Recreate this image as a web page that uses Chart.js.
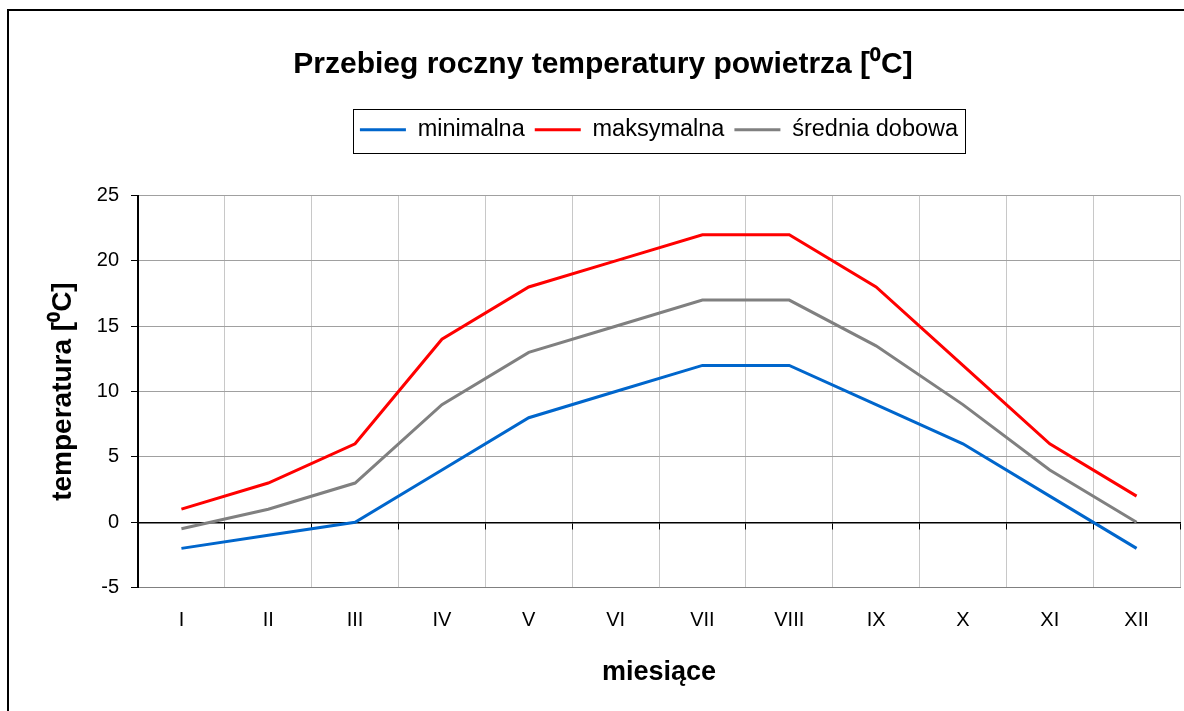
<!DOCTYPE html>
<html><head><meta charset="utf-8">
<script src="https://cdn.jsdelivr.net/npm/chart.js@4.4.1/dist/chart.umd.min.js"></script>
<style>
html,body{margin:0;padding:0;background:#fff;overflow:hidden}
#wrap{position:relative;width:1184px;height:711px}
#frame{position:absolute;left:7px;top:9px;width:1300px;height:800px;border:2.5px solid #000;pointer-events:none;box-sizing:border-box}
canvas{position:absolute;left:0;top:0}
</style></head><body>
<div id="wrap"><canvas id="c" width="1184" height="711"></canvas><div id="frame"></div></div>
<script>
const months = ['I','II','III','IV','V','VI','VII','VIII','IX','X','XI','XII'];
const minimalna = [-2, -1, 0, 4, 8, 10, 12, 12, 9, 6, 2, -2];
const maksymalna = [1, 3, 6, 14, 18, 20, 22, 22, 18, 12, 6, 2];
const sredniaDobowa = [-0.5, 1, 3, 9, 13, 15, 17, 17, 13.5, 9, 4, 0];
const yTicks = [-5, 0, 5, 10, 15, 20, 25];
const seriesNames = ['minimalna', 'maksymalna', 'średnia dobowa'];
const seriesColors = ['#0066cc', '#ff0000', '#808080'];
const chartTitle = 'Przebieg roczny temperatury powietrza [⁰C]';
const yTitle = 'temperatura [⁰C]';
const xTitle = 'miesiące';

const FONT = '"Liberation Sans", Arial, sans-serif';

const legendBox = {
  id: 'legendBox',
  afterDraw(chart) {
    const lg = chart.legend;
    if (!lg || !lg.legendHitBoxes || !lg.legendHitBoxes.length) return;
    const hb = lg.legendHitBoxes;
    const l = Math.min(...hb.map(h => h.left));
    const r = Math.max(...hb.map(h => h.left + h.width));
    const t = Math.min(...hb.map(h => h.top));
    const b = Math.max(...hb.map(h => h.top + h.height));
    const ctx = chart.ctx;
    ctx.save();
    ctx.strokeStyle = '#000';
    ctx.lineWidth = 1;
    ctx.strokeRect(Math.round(l - 7) + 0.5, Math.round(t - 9) + 0.5, Math.round(r - l + 14), Math.round(b - t + 20));
    ctx.restore();
  }
};

const datasets = [minimalna, maksymalna, sredniaDobowa].map((d, i) => ({
  label: seriesNames[i],
  data: d,
  borderColor: seriesColors[i],
  backgroundColor: seriesColors[i],
  borderWidth: 3,
  pointRadius: 0,
  pointHoverRadius: 0,
  tension: 0,
  fill: false
}));

new Chart(document.getElementById('c'), {
  type: 'line',
  data: { labels: months, datasets },
  plugins: [legendBox],
  options: {
    responsive: false,
    animation: false,
    events: [],
    layout: { padding: { left: 26, right: 4, top: 0, bottom: 0 } },
    plugins: {
      tooltip: { enabled: false },
      title: {
        display: true,
        text: chartTitle,
        color: '#000',
        font: { family: FONT, size: 30, weight: 'bold' },
        padding: { top: 47, bottom: 25 }
      },
      legend: {
        display: true,
        position: 'top',
        fullSize: false,
        labels: {
          usePointStyle: true,
          pointStyle: 'line',
          pointStyleWidth: 46,
          color: '#000',
          font: { family: FONT, size: 23.5 },
          padding: 10
        }
      }
    },
    scales: {
      x: {
        type: 'category',
        offset: true,
        grid: { offset: true, color: '#c8c8c8', lineWidth: 1, drawTicks: false },
        border: { display: true, color: '#808080', width: 1 },
        ticks: { color: '#000', font: { family: FONT, size: 20 }, padding: 21 },
        title: { display: true, text: xTitle, color: '#000', font: { family: FONT, size: 27, weight: 'bold' }, padding: { top: 3, bottom: 22 } }
      },
      xZero: {
        type: 'category',
        axis: 'x',
        position: { y: 0 },
        offset: true,
        grid: { offset: true, drawOnChartArea: false, drawTicks: true, tickLength: 6, tickColor: '#000', color: '#000' },
        border: { display: true, color: '#000', width: 1.5 },
        ticks: { display: false },
        afterFit(s) { s.height = 0; }
      },
      xTop: {
        type: 'category',
        axis: 'x',
        position: 'top',
        grid: { display: false },
        border: { display: false },
        ticks: { display: false },
        afterFit(s) { s.height = 44; }
      },
      y: {
        min: -5,
        max: 25,
        afterBuildTicks(s) { s.ticks = yTicks.map(v => ({ value: v })); },
        grid: { color: '#a0a0a0', lineWidth: 1, tickLength: 7, tickColor: '#000' },
        border: { display: true, color: '#000', width: 2 },
        ticks: { color: '#000', font: { family: FONT, size: 20 }, padding: 12 },
        title: { display: true, text: yTitle, color: '#000', font: { family: FONT, size: 28, weight: 'bold' }, padding: { top: 20, bottom: 0 } },
        afterFit(s) { s.width = 112; }
      }
    }
  }
});
</script>
</body></html>
